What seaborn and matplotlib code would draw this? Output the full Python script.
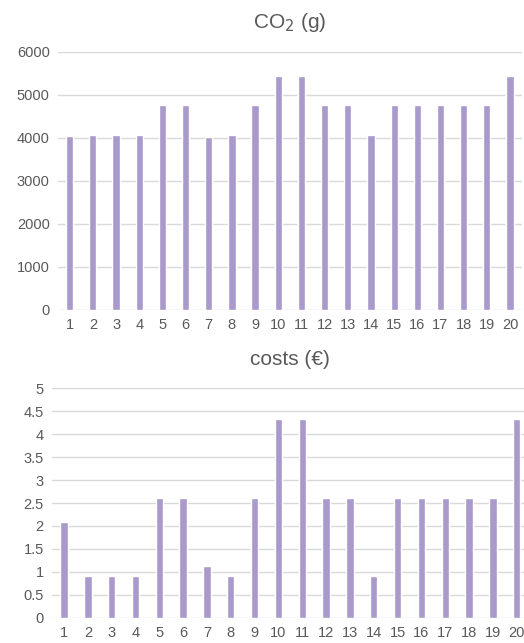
import matplotlib
matplotlib.use("Agg")
import matplotlib.pyplot as plt
import pandas as pd
import seaborn as sns

trips = [str(i) for i in range(1, 21)]
co2_g = [4030, 4065, 4065, 4065, 4765, 4765, 4010, 4065, 4765, 5445,
         5445, 4765, 4765, 4065, 4765, 4765, 4765, 4765, 4765, 5445]
costs_eur = [2.08, 0.92, 0.92, 0.92, 2.62, 2.62, 1.12, 0.92, 2.62, 4.33,
             4.33, 2.62, 2.62, 0.92, 2.62, 2.62, 2.62, 2.62, 2.62, 4.33]

BAR = "#a99acb"
GRID = "#d9d9d9"
TEXT = "#595959"

sns.set_style("white")
plt.rcParams["font.family"] = ["Liberation Sans", "DejaVu Sans"]

df = pd.DataFrame({"trip": trips, "co2": co2_g, "costs": costs_eur})

fig = plt.figure(figsize=(5.24, 6.43), dpi=100)
ax1 = fig.add_axes([58.1 / 524, 0.518, (521.6 - 58.1) / 524, 0.4017])
ax2 = fig.add_axes([52.1 / 524, 0.0393, (528.6 - 52.1) / 524, 0.3568])


def style(ax, ticks, labels, title, pad):
    ax.set_yticks(ticks)
    ax.set_yticklabels(labels)
    ax.set_ylim(ticks[0], ticks[-1])
    ax.set_xlim(-0.5, len(trips) - 0.5)
    ax.grid(axis="y", color=GRID, linewidth=1)
    ax.set_axisbelow(True)
    for s in ax.spines.values():
        s.set_visible(False)
    ax.tick_params(axis="both", length=0, labelsize=10.5, colors=TEXT, pad=6)
    ax.set_xlabel("")
    ax.set_ylabel("")
    ax.set_title(title, fontsize=15, color=TEXT, pad=pad)


sns.barplot(data=df, x="trip", y="co2", color=BAR, width=0.31, saturation=1, ax=ax1)
style(ax1, [0, 1000, 2000, 3000, 4000, 5000, 6000],
      ["0", "1000", "2000", "3000", "4000", "5000", "6000"], "CO$_2$ (g)", 17)

sns.barplot(data=df, x="trip", y="costs", color=BAR, width=0.31, saturation=1, ax=ax2)
style(ax2, [0, 0.5, 1, 1.5, 2, 2.5, 3, 3.5, 4, 4.5, 5],
      ["0", "0.5", "1", "1.5", "2", "2.5", "3", "3.5", "4", "4.5", "5"], "costs (€)", 17)

fig.savefig("out.png", dpi=100)
plt.close(fig)
